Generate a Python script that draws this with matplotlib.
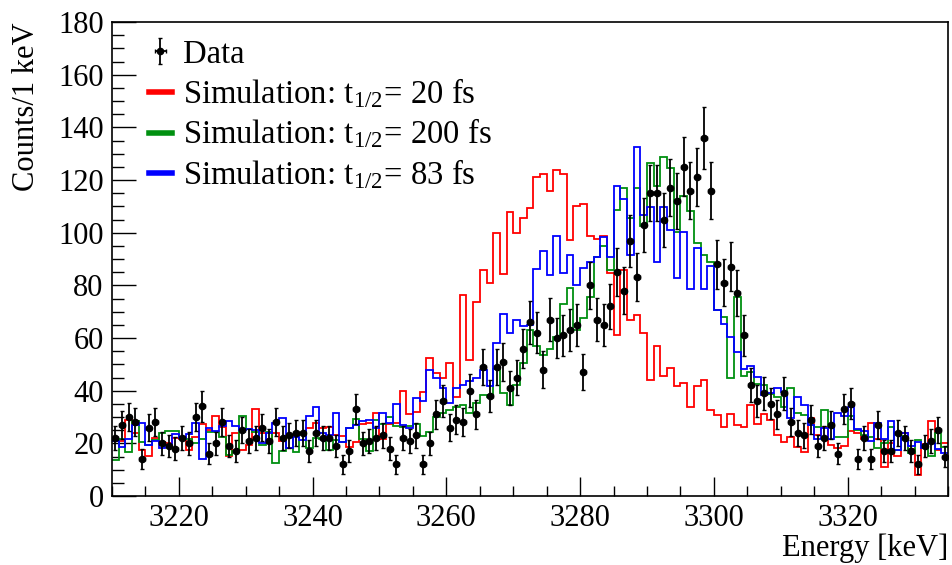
import numpy as np
import matplotlib
matplotlib.use('Agg')
import matplotlib.pyplot as plt
from matplotlib.lines import Line2D
from matplotlib.container import ErrorbarContainer
from matplotlib.legend_handler import HandlerErrorbar
from matplotlib.ticker import MultipleLocator

plt.rcParams['font.family'] = ['Liberation Serif', 'DejaVu Serif']
plt.rcParams['mathtext.fontset'] = 'stix'

# 1 keV bins from 3210 to 3335 keV
E_LO = 3210
N_BINS = 125

data_counts = [
    22, 27, 30, 28, 14, 26, 28, 20, 19, 18, 22, 20, 30, 34, 16, 20, 28, 19, 17, 25,
    21, 22, 26, 21, 28, 22, 23, 24, 24, 17, 24, 22, 22, 19, 12, 17, 33, 20, 21, 22,
    23, 18, 12, 22, 21, 23, 12, 20, 31, 36, 26, 29, 28, 40, 31, 49, 38, 49, 51, 41,
    45, 56, 66, 62, 48, 67, 60, 61, 63, 65, 47, 80, 67, 65, 72, 85, 78, 97, 83, 103,
    115, 115, 105, 117, 112, 125, 116, 121, 136, 116, 88, 81, 87, 77, 61, 42, 36, 39, 35, 31,
    39, 28, 24, 23, 29, 19, 22, 27, 16, 33, 35, 14, 22, 14, 27, 17, 17, 24, 22, 17,
    12, 19, 21, 25, 15,
]

sim_20fs = [
    21.0, 21.0, 28.9, 23.8, 17.5, 15.2, 22.2, 20.6, 20.0, 21.9, 21.5, 17.5, 22.3, 27.3, 25.0, 30.4, 26.3, 15.2, 24.0, 17.5,
    19.4, 32.9, 23.8, 21.5, 23.8, 21.0, 18.1, 23.2, 23.8, 25.7, 27.8, 25.7, 26.3, 23.2, 22.8, 18.7, 20.6, 27.5, 27.8, 31.4,
    21.5, 27.5, 27.8, 40.0, 31.0, 32.0, 39.4, 52.3, 46.6, 44.7, 50.4, 37.7, 76.3, 51.6, 73.8, 85.8, 81.0, 99.7, 84.3, 107.7,
    99.7, 105.4, 109.2, 121.2, 122.2, 115.9, 123.8, 122.2, 97.2, 110.1, 110.9, 98.9, 97.5, 98.7, 84.8, 61.0, 85.8, 66.8, 68.7, 61.8,
    44.0, 57.0, 45.6, 48.7, 41.8, 43.0, 33.9, 41.8, 44.0, 32.7, 30.8, 26.3, 31.1, 27.0, 26.3, 34.6, 27.3, 31.1, 28.9, 23.2,
    20.6, 22.3, 18.7, 16.8, 29.5, 23.2, 26.1, 19.4, 18.1, 19.0, 24.8, 24.0, 21.6, 27.8, 21.5, 10.9, 20.3, 15.2, 23.8, 17.7,
    8.0, 19.6, 28.6, 17.5, 20.0,
]

sim_200fs = [
    13.7, 21.5, 16.8, 28.6, 20.6, 19.4, 21.3, 24.0, 24.7, 24.7, 21.9, 21.5, 20.0, 21.5, 24.4, 24.4, 22.5, 15.6, 17.2, 30.4,
    25.3, 24.4, 19.4, 24.4, 12.4, 17.1, 22.3, 16.8, 24.0, 18.1, 21.9, 21.5, 17.5, 21.3, 20.6, 25.7, 29.1, 21.5, 17.2, 28.9,
    27.5, 29.9, 26.6, 26.3, 26.6, 27.5, 22.8, 24.4, 30.1, 31.4, 32.7, 33.9, 34.6, 31.4, 35.2, 38.4, 37.7, 48.1, 39.2, 34.6,
    42.2, 50.4, 63.0, 57.0, 53.5, 56.0, 60.3, 72.9, 78.9, 63.0, 67.5, 75.7, 90.9, 95.0, 86.0, 108.6, 116.8, 105.4, 116.8, 102.4,
    126.4, 117.6, 128.6, 124.4, 100.4, 114.0, 108.3, 96.1, 91.5, 88.8, 70.5, 68.1, 45.0, 75.5, 45.6, 47.2, 42.5, 42.1, 38.7, 37.7,
    33.9, 40.9, 31.4, 30.8, 27.0, 26.3, 32.7, 26.6, 22.3, 22.3, 30.4, 25.0, 23.2, 22.5, 18.1, 20.0, 26.3, 17.5, 22.8, 16.2,
    21.3, 19.4, 15.2, 24.0, 18.7,
]

sim_83fs = [
    21.0, 18.5, 21.5, 27.0, 27.8, 19.4, 21.0, 18.1, 19.4, 23.5, 22.2, 23.5, 27.8, 13.9, 26.0, 24.8, 26.6, 28.6, 26.6, 25.0,
    25.4, 25.0, 20.0, 23.8, 27.8, 29.5, 18.1, 22.5, 21.3, 30.4, 33.9, 24.0, 23.2, 31.4, 20.6, 26.0, 27.0, 28.6, 28.9, 26.0,
    31.4, 27.8, 34.9, 27.0, 25.7, 37.3, 36.0, 48.0, 45.0, 41.0, 35.5, 40.9, 42.0, 43.5, 45.0, 47.8, 41.8, 58.2, 69.0, 62.0,
    66.8, 64.5, 65.0, 86.2, 93.2, 83.9, 98.7, 84.6, 91.5, 80.0, 86.5, 88.8, 90.8, 98.5, 90.9, 117.7, 112.7, 91.5, 132.7, 106.7,
    109.6, 89.0, 109.9, 101.0, 82.7, 100.4, 78.5, 94.0, 78.5, 87.3, 70.6, 65.3, 60.3, 54.8, 48.1, 49.4, 45.3, 38.4, 39.0, 40.9,
    39.6, 29.5, 37.5, 34.6, 27.0, 21.6, 25.7, 21.5, 31.4, 30.5, 33.7, 25.3, 24.8, 21.0, 27.6, 21.5, 28.6, 17.5, 24.0, 19.0,
    20.6, 18.1, 20.3, 17.7, 16.2,
]

edges = E_LO + np.arange(N_BINS + 1)
centers = 0.5 * (edges[:-1] + edges[1:])
counts = np.array(data_counts, dtype=float)

RED = '#ff0000'
GREEN = '#009010'
BLUE = '#0000ff'

fig = plt.figure(figsize=(9.52, 5.65), dpi=100)
ax = fig.add_axes([0.1176, 0.1221, 0.8782, 0.8389])

ax.stairs(sim_20fs, edges, baseline=None, color=RED, lw=1.3, zorder=2)
ax.stairs(sim_200fs, edges, baseline=None, color=GREEN, lw=1.3, zorder=2)
ax.stairs(sim_83fs, edges, baseline=None, color=BLUE, lw=1.3, zorder=2)

data_eb = ax.errorbar(centers, counts, yerr=np.sqrt(counts), xerr=0.4, fmt='o', color='black',
                      ms=4.5, elinewidth=1.3, capsize=1.5, capthick=1.0, zorder=3)

ax.set_xlim(E_LO, E_LO + N_BINS)
ax.set_ylim(0, 180)

ax.xaxis.set_major_locator(MultipleLocator(20))
ax.xaxis.set_minor_locator(MultipleLocator(5))
ax.yaxis.set_major_locator(MultipleLocator(20))
ax.yaxis.set_minor_locator(MultipleLocator(5))
ax.tick_params(which='both', direction='in', top=False, right=False, labelsize=22, width=1.0)
ax.tick_params(axis='x', which='major', length=14, pad=6)
ax.tick_params(axis='x', which='minor', length=7)
ax.tick_params(axis='y', which='major', length=17, pad=6)
ax.tick_params(axis='y', which='minor', length=8.5)
for s in ax.spines.values():
    s.set_linewidth(1.2)

ax.set_xlabel('Energy [keV]', fontsize=22, loc='right', labelpad=0)
ax.set_ylabel('Counts/1 keV', fontsize=22, loc='top', labelpad=12)

handles = [
    data_eb,
    Line2D([], [], color=RED, lw=4),
    Line2D([], [], color=GREEN, lw=4),
    Line2D([], [], color=BLUE, lw=4),
]
labels = [
    'Data',
    r'Simulation: t$_{\mathregular{1/2}}$= 20 fs',
    r'Simulation: t$_{\mathregular{1/2}}$= 200 fs',
    r'Simulation: t$_{\mathregular{1/2}}$= 83 fs',
]
ax.legend(handles, labels, loc='upper left', bbox_to_anchor=(0.044, 0.964), frameon=False,
          fontsize=23.5, handlelength=0.72, handletextpad=0.34, labelspacing=0.22,
          borderpad=0, borderaxespad=0,
          handler_map={ErrorbarContainer: HandlerErrorbar(xerr_size=0.18, yerr_size=0.4)})

fig.savefig('out.png', dpi=100)
